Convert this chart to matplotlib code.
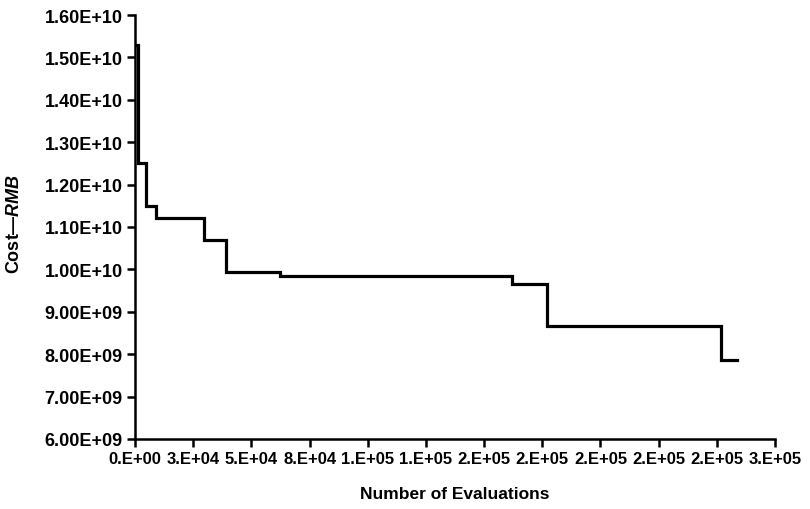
import matplotlib.pyplot as plt
import numpy as np

# best cost found vs. number of evaluations
evals = [800, 1300, 4700, 9000, 29700, 39100, 62300, 162000, 177000, 251800, 258700]
cost = [1.53e10, 1.251e10, 1.150e10, 1.121e10, 1.069e10, 9.94e9, 9.85e9, 9.66e9, 8.67e9, 7.86e9, 7.86e9]

x_ticks = np.arange(0, 275001, 25000)
x_labels = ['0.E+00', '3.E+04', '5.E+04', '8.E+04', '1.E+05', '1.E+05',
            '2.E+05', '2.E+05', '2.E+05', '2.E+05', '2.E+05', '3.E+05']
y_ticks = np.arange(6e9, 1.61e10, 1e9)
y_labels = ['6.00E+09', '7.00E+09', '8.00E+09', '9.00E+09', '1.00E+10', '1.10E+10',
            '1.20E+10', '1.30E+10', '1.40E+10', '1.50E+10', '1.60E+10']

plt.rcParams['font.family'] = ['Liberation Sans', 'DejaVu Sans']
plt.rcParams['font.weight'] = 'bold'
plt.rcParams['mathtext.fontset'] = 'custom'
plt.rcParams['mathtext.it'] = 'Liberation Sans:italic:bold'
plt.rcParams['mathtext.rm'] = 'Liberation Sans:bold'

fig = plt.figure(figsize=(8.1, 5.1), dpi=100)
ax = fig.add_axes([0.1667, 0.1373, 0.7901, 0.8313])

ax.plot(evals, cost, drawstyle='steps-post', color='black', lw=2.3, solid_joinstyle='miter')

ax.set_xlim(0, 275000)
ax.set_ylim(6e9, 1.6e10)
ax.set_xticks(x_ticks)
ax.set_xticklabels(x_labels)
ax.set_yticks(y_ticks)
ax.set_yticklabels(y_labels)

for s in ['top', 'right']:
    ax.spines[s].set_visible(False)
for s in ['left', 'bottom']:
    ax.spines[s].set_linewidth(1.8)
ax.tick_params(direction='out', length=6, width=1.8, pad=3)
ax.tick_params(axis='y', labelsize=13)
ax.tick_params(axis='x', labelsize=12)

ax.set_xlabel('Number of Evaluations', fontsize=12.5, fontweight='bold', labelpad=14)
ax.set_ylabel(r'Cost—$\mathit{RMB}$', fontsize=13, fontweight='bold')
ax.yaxis.set_label_coords(-0.175, 0.51)

fig.savefig('out.png', dpi=100)
